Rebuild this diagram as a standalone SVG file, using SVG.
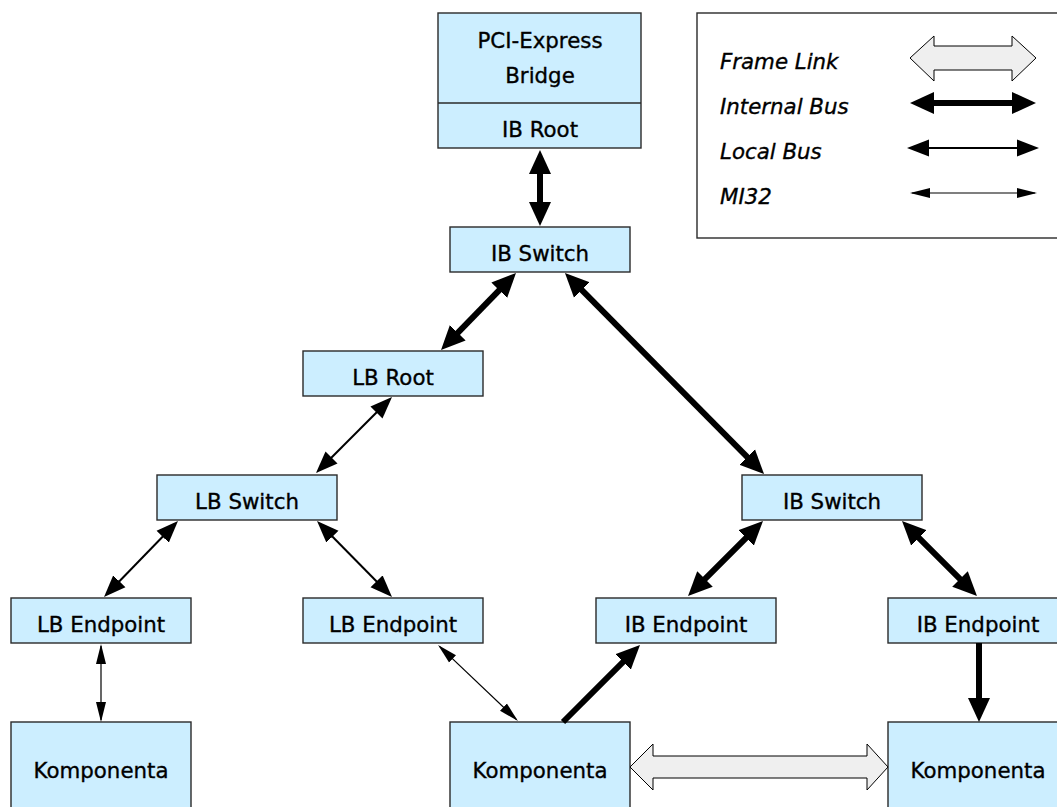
<svg xmlns="http://www.w3.org/2000/svg" width="1057" height="807" viewBox="0 0 1057 807">
<style>
.node{fill:#cceeff;stroke:#2a2a2a;stroke-width:1.4}
.lbl{font-family:"DejaVu Sans",Verdana,sans-serif;font-size:21.33px;fill:#000;stroke:#000;stroke-width:0.35;text-anchor:middle}
.leg{font-family:"DejaVu Sans",Verdana,sans-serif;font-size:21.33px;font-style:italic;fill:#000;stroke:#000;stroke-width:0.35}
.ib{stroke:#000;stroke-width:6;fill:none}
.lb{stroke:#000;stroke-width:2;fill:none}
.mi{stroke:#000;stroke-width:1.2;fill:none}
.fl{fill:#efefef;stroke:#000;stroke-width:1}
</style>
<defs>
<marker id="hIB" markerUnits="userSpaceOnUse" viewBox="0 -12 24 24" markerWidth="24" markerHeight="24" refX="14" refY="0" orient="auto-start-reverse"><path d="M0,-11 L24,0 L0,11 Z" fill="#000"/></marker>
<marker id="hLB" markerUnits="userSpaceOnUse" viewBox="0 -9 22 18" markerWidth="22" markerHeight="18" refX="18" refY="0" orient="auto-start-reverse"><path d="M0,-8.5 L22,0 L0,8.5 Z" fill="#000"/></marker>
<marker id="hMI" markerUnits="userSpaceOnUse" viewBox="0 -6 20 12" markerWidth="20" markerHeight="12" refX="18" refY="0" orient="auto-start-reverse"><path d="M0,-5 L20,0 L0,5 Z" fill="#000"/></marker>
</defs>
<rect width="1057" height="807" fill="#fff"/>

<g id="legend">
<rect x="697" y="13" width="380" height="225" fill="#fff" stroke="#2a2a2a" stroke-width="1.4"/>
<text class="leg" x="720" y="69">Frame Link</text>
<text class="leg" x="720" y="114">Internal Bus</text>
<text class="leg" x="720" y="159">Local Bus</text>
<text class="leg" x="720" y="204">MI32</text>
<polygon class="fl" points="910,58 934,36 934,46 1012,46 1012,36 1036,58 1012,81 1012,70 934,70 934,81"/>
<line class="ib" x1="920" y1="103" x2="1026" y2="103" marker-start="url(#hIB)" marker-end="url(#hIB)"/>
<line class="lb" x1="911" y1="148" x2="1035" y2="148" marker-start="url(#hLB)" marker-end="url(#hLB)"/>
<line class="mi" x1="912" y1="193" x2="1035" y2="193" marker-start="url(#hMI)" marker-end="url(#hMI)"/>
</g>

<g id="pcie-bridge">
<rect class="node" x="438" y="13" width="203" height="135"/>
<line x1="438" y1="103" x2="641" y2="103" stroke="#2a2a2a" stroke-width="1.4"/>
<text class="lbl" x="540" y="48">PCI-Express</text>
<text class="lbl" x="540" y="83">Bridge</text>
<text class="lbl" x="540" y="137">IB Root</text>
</g>
<g id="ib-switch-top"><rect class="node" x="450" y="227" width="180" height="45"/><text class="lbl" x="540" y="261">IB Switch</text></g>
<g id="lb-root"><rect class="node" x="303" y="351" width="180" height="45"/><text class="lbl" x="393" y="385">LB Root</text></g>
<g id="lb-switch"><rect class="node" x="157" y="475" width="180" height="45"/><text class="lbl" x="247" y="509">LB Switch</text></g>
<g id="ib-switch-right"><rect class="node" x="742" y="475" width="180" height="45"/><text class="lbl" x="832" y="509">IB Switch</text></g>
<g id="lb-endpoint-1"><rect class="node" x="11" y="598" width="180" height="45"/><text class="lbl" x="101" y="632">LB Endpoint</text></g>
<g id="lb-endpoint-2"><rect class="node" x="303" y="598" width="180" height="45"/><text class="lbl" x="393" y="632">LB Endpoint</text></g>
<g id="ib-endpoint-1"><rect class="node" x="596" y="598" width="180" height="45"/><text class="lbl" x="686" y="632">IB Endpoint</text></g>
<g id="ib-endpoint-2"><rect class="node" x="888" y="598" width="180" height="45"/><text class="lbl" x="978" y="632">IB Endpoint</text></g>
<g id="komponenta-1"><rect class="node" x="11" y="722" width="180" height="100"/><text class="lbl" x="101" y="778">Komponenta</text></g>
<g id="komponenta-2"><rect class="node" x="450" y="722" width="180" height="100"/><text class="lbl" x="540" y="778">Komponenta</text></g>
<g id="komponenta-3"><rect class="node" x="888" y="722" width="180" height="100"/><text class="lbl" x="978" y="778">Komponenta</text></g>

<g id="connectors">
<line class="ib" x1="540" y1="160" x2="540" y2="216" marker-start="url(#hIB)" marker-end="url(#hIB)"/>
<line class="ib" x1="509" y1="280.2" x2="448" y2="342.8" marker-start="url(#hIB)" marker-end="url(#hIB)"/>
<line class="ib" x1="572" y1="280.1" x2="757" y2="466.9" marker-start="url(#hIB)" marker-end="url(#hIB)"/>
<line class="ib" x1="755.9" y1="528.1" x2="695.1" y2="588.9" marker-start="url(#hIB)" marker-end="url(#hIB)"/>
<line class="ib" x1="909.1" y1="528.1" x2="969.9" y2="588.9" marker-start="url(#hIB)" marker-end="url(#hIB)"/>
<line class="ib" x1="563" y1="722" x2="632.9" y2="652.1" marker-end="url(#hIB)"/>
<line class="ib" x1="979" y1="643" x2="979" y2="712" marker-end="url(#hIB)"/>
<line class="lb" x1="389.2" y1="399.8" x2="318.8" y2="470.2" marker-start="url(#hLB)" marker-end="url(#hLB)"/>
<line class="lb" x1="175.2" y1="523.8" x2="106.8" y2="594.2" marker-start="url(#hLB)" marker-end="url(#hLB)"/>
<line class="lb" x1="319.8" y1="523.8" x2="389.2" y2="594.2" marker-start="url(#hLB)" marker-end="url(#hLB)"/>
<line class="mi" x1="101" y1="646" x2="101" y2="720" marker-start="url(#hMI)" marker-end="url(#hMI)"/>
<line class="mi" x1="439.5" y1="646.4" x2="516.5" y2="719.6" marker-start="url(#hMI)" marker-end="url(#hMI)"/>
<polygon class="fl" points="630,767 653,744 653,756 867,756 867,744 888,767 867,790 867,778 653,778 653,790"/>
</g>
</svg>
